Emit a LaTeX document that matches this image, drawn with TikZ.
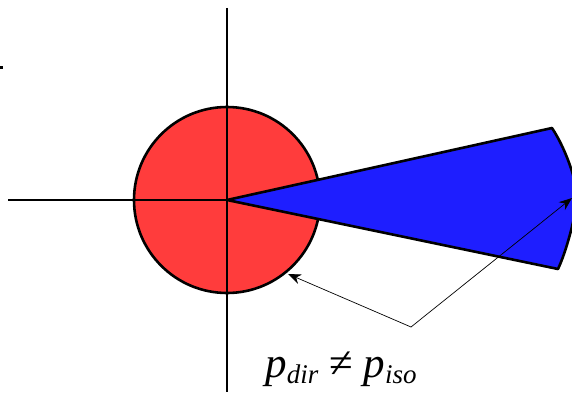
\documentclass[tikz,border=0pt]{standalone}
\usepackage{fontspec}
\setmainfont{Liberation Serif}
\usetikzlibrary{arrows.meta}
\definecolor{discred}{RGB}{255,60,60}
\definecolor{wedgeblue}{RGB}{30,30,255}
\tikzset{
  axis/.style={line width=2pt},
  outline/.style={line width=2.6pt, line join=round},
  pointer/.style={line width=0.7pt, -{Stealth[length=13pt,width=10pt]}}
}
\begin{document}
\begin{tikzpicture}[x=1pt,y=1pt]
\useasboundingbox (0,0) rectangle (572,392);
\coordinate (O) at (227,192);
\node[circle, draw, outline, fill=discred, minimum size=186pt, inner sep=0pt] (disc) at (O) {};
\coordinate (vtop) at (227,384);
\coordinate (vbot) at (227,0);
\coordinate (hleft) at (8,192);
\draw[axis] (vtop) -- (vbot);
\draw[axis] (hleft) -- (O);
\coordinate (wt) at (552,264);
\coordinate (wb) at (558,123);
\draw[outline, fill=wedgeblue] (O) -- (wt) .. controls (568,240) and (580,200) .. (577,190) .. controls (574,170) and (566,140) .. (wb) -- cycle;
\fill (0,323) rectangle (2.5,326);
\coordinate (joint) at (411,65);
\coordinate (tipdisc) at (288,118);
\coordinate (tipwedge) at (572,194);
\draw[pointer] (joint) -- (tipdisc);
\draw[pointer] (joint) -- (tipwedge);
\node[inner sep=0pt, anchor=base] (lbl) at (341,15) {\fontsize{43}{43}\selectfont\itshape p\raisebox{-6.5pt}{\fontsize{27}{27}\selectfont dir} \upshape≠ \itshape p\raisebox{-6.5pt}{\fontsize{27}{27}\selectfont iso}};
\end{tikzpicture}
\end{document}
